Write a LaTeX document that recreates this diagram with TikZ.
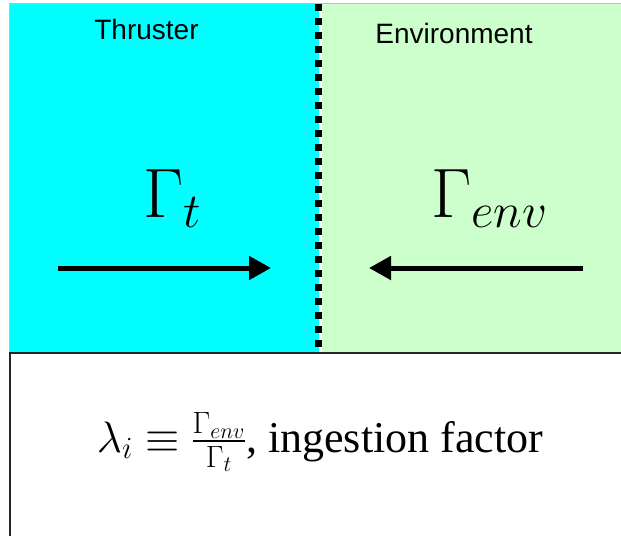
\documentclass[tikz,border=0pt]{standalone}
\usepackage{fix-cm}
\usepackage{amsmath,amssymb}
\usepackage{fontspec}
\setmainfont{Liberation Serif}
\setsansfont{Liberation Sans}
\usepackage{xcolor}
\usetikzlibrary{positioning,arrows.meta}
\definecolor{thrbg}{RGB}{0,255,255}
\definecolor{envbg}{RGB}{204,255,204}
\definecolor{rimgray}{RGB}{190,190,190}

\begin{document}
\begin{tikzpicture}[x=1pt,y=-1pt,
  lbl/.style={font=\sffamily\fontsize{28}{34}\selectfont,inner sep=0pt,anchor=base},
  sym/.style={font=\fontsize{70}{80}\selectfont,inner sep=0pt,anchor=base west},
  arr/.style={-{Triangle[length=22pt,width=23pt]},line width=5pt}]
\useasboundingbox (0,0) rectangle (621,536);
% two regions
\fill[white] (0,0) rectangle (621,536);
\fill[thrbg] (9.5,3) rectangle (319,353);
\fill[envbg] (322,3) rectangle (621,353);
\draw[rimgray,line width=0.8pt] (9.5,353) -- (9.5,3) -- (621,3);
\draw[black,line width=7pt,dash pattern=on 7pt off 7pt] (318.5,3.5) -- (318.5,353);
\draw[black!85,line width=2.5pt] (9,353) -- (621,353);
\draw[black!85,line width=2.5pt] (10,353) -- (10,536);
% labels
\node[lbl] (thr) at (146.5,39.5) {Thruster};
\node[lbl] (env) at (454,43.5) {Environment};
\node[sym] (gt) at (143,217) {$\Gamma_t$};
\node[sym] (genv) at (431,217) {$\Gamma_{env}$};
% fluxes
\coordinate (t0) at (58,268);
\coordinate (t1) at (271,268);
\coordinate (e0) at (583,268);
\coordinate (e1) at (369,268);
\draw[arr] (t0) -- (t1);
\draw[arr] (e0) -- (e1);
% definition
\node[font=\fontsize{44}{50}\selectfont,inner sep=0pt,anchor=base] (lam) at (320,452)
  {$\lambda_i \equiv \frac{\Gamma_{env}}{\Gamma_t}$, ingestion factor};
\end{tikzpicture}
\end{document}
